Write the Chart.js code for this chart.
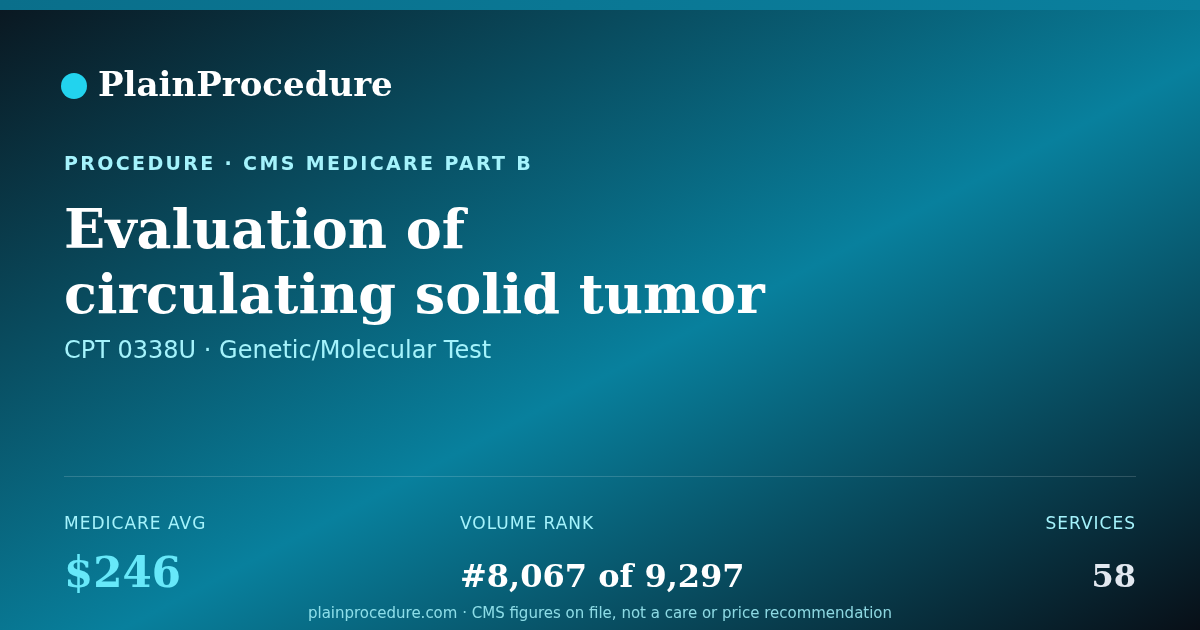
<!DOCTYPE html>
<html>
<head>
<meta charset="utf-8">
<script src="https://cdn.jsdelivr.net/npm/chart.js@4.4.1/dist/chart.umd.min.js"></script>
<style>
  html, body { margin: 0; padding: 0; background: #0a1820; }
  #card { display: block; }
</style>
</head>
<body>
<canvas id="card" width="1200" height="630"></canvas>
<script>
// card text
var brand = "PlainProcedure";
var eyebrow = "PROCEDURE · CMS MEDICARE PART B";
var titleLines = ["Evaluation of", "circulating solid tumor"];
var subtitle = "CPT 0338U · Genetic/Molecular Test";
var footer = "plainprocedure.com · CMS figures on file, not a care or price recommendation";

// stats
var statLabels = ["MEDICARE AVG", "VOLUME RANK", "SERVICES"];
var statValues = ["$246", "#8,067 of 9,297", "58"];

var SERIF = "'DejaVu Serif', serif";
var SANS = "'DejaVu Sans', sans-serif";
var statColors = ["#67e8f9", "#ffffff", "#e2e8f0"];
var statSizes = [42, 32, 32];
var statAlign = ["left", "left", "right"];
var statX = [64, 460, 1136];

// draws the card behind the (empty) chart area
var cardPlugin = {
  id: "card",
  beforeDraw: function (chart) {
    var ctx = chart.ctx, W = chart.width, H = chart.height;
    ctx.save();

    // background, "to bottom right": isolines run along the anti-diagonal
    var d = (W * W + H * H);
    var ex = W * H * H / d * 2, ey = H * W * W / d * 2;
    var g = ctx.createLinearGradient(W / 2 - ex / 2, H / 2 - ey / 2, W / 2 + ex / 2, H / 2 + ey / 2);
    g.addColorStop(0, "#0a1720");
    g.addColorStop(0.55, "#08809d");
    g.addColorStop(1, "#080f17");
    ctx.fillStyle = g;
    ctx.fillRect(0, 0, W, H);

    // top bar
    var tb = ctx.createLinearGradient(0, 0, W, 0);
    tb.addColorStop(0, "#0a6f8b");
    tb.addColorStop(1, "#0a809e");
    ctx.fillStyle = tb;
    ctx.fillRect(0, 0, W, 10);

    ctx.textBaseline = "alphabetic";

    // brand
    ctx.fillStyle = "#22d3ee";
    ctx.beginPath();
    ctx.arc(74, 86, 13, 0, Math.PI * 2);
    ctx.fill();
    ctx.fillStyle = "#ffffff";
    ctx.font = "bold 34px " + SERIF;
    ctx.textAlign = "left";
    ctx.fillText(brand, 98, 96);

    // eyebrow
    ctx.fillStyle = "#a5f3fc";
    ctx.font = "bold 19px " + SANS;
    ctx.letterSpacing = "2.35px";
    ctx.fillText(eyebrow, 64, 170);
    ctx.letterSpacing = "0px";

    // title
    ctx.fillStyle = "#ffffff";
    ctx.font = "bold 54px " + SERIF;
    titleLines.forEach(function (t, i) {
      ctx.fillText(t, 64, 248 + i * 65);
    });

    // subtitle
    ctx.fillStyle = "#a5f3fc";
    ctx.font = "24px " + SANS;
    ctx.fillText(subtitle, 64, 358);

    // divider
    ctx.strokeStyle = "rgba(255,255,255,0.16)";
    ctx.lineWidth = 1;
    ctx.beginPath();
    ctx.moveTo(64, 476.5);
    ctx.lineTo(1136, 476.5);
    ctx.stroke();

    // stats
    statLabels.forEach(function (lab, i) {
      ctx.textAlign = statAlign[i];
      ctx.fillStyle = "#a5f3fc";
      ctx.font = "17px " + SANS;
      ctx.letterSpacing = "1px";
      ctx.fillText(lab, statX[i], 529);
      ctx.letterSpacing = "0px";
      ctx.fillStyle = statColors[i];
      ctx.font = "bold " + statSizes[i] + "px " + SERIF;
      ctx.fillText(statValues[i], statX[i], 587);
    });

    // footer
    ctx.textAlign = "center";
    ctx.fillStyle = "rgba(165,243,252,0.85)";
    ctx.font = "15px " + SANS;
    ctx.fillText(footer, W / 2, 618);

    ctx.restore();
  }
};

new Chart("card", {
  type: "bar",
  data: {
    labels: statLabels,
    datasets: [{ data: [], backgroundColor: "transparent" }]
  },
  options: {
    responsive: false,
    animation: false,
    devicePixelRatio: 1,
    events: [],
    plugins: { legend: { display: false }, tooltip: { enabled: false } },
    scales: { x: { display: false }, y: { display: false } }
  },
  plugins: [cardPlugin]
});
</script>
</body>
</html>
